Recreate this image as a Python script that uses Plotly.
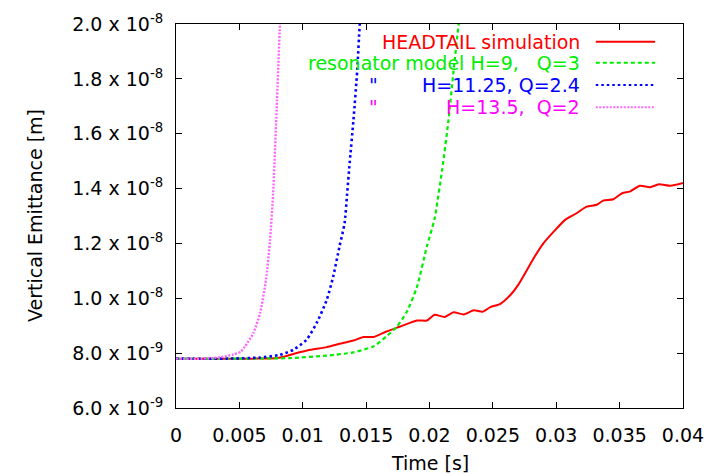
import plotly.graph_objects as go

# ---- data (emittance in units of 1e-9 m, time in s) ----
t_headtail = [0, 0.002, 0.004, 0.006, 0.008, 0.00925, 0.0106, 0.0119, 0.0129, 0.0140, 0.0148,
              0.0156, 0.0166, 0.0177, 0.0190, 0.0198, 0.0204, 0.0212, 0.0219, 0.0227, 0.0235,
              0.0242, 0.0248, 0.0256, 0.0264, 0.0270, 0.0277, 0.0283, 0.0290, 0.0298, 0.0307,
              0.0316, 0.0324, 0.0332, 0.0337, 0.0345, 0.0352, 0.0358, 0.0366, 0.0374, 0.0381,
              0.0390, 0.0400]
e_headtail = [7.8, 7.8, 7.8, 7.8, 7.82, 7.97, 8.12, 8.22, 8.34, 8.46, 8.59,
              8.59, 8.79, 8.97, 9.19, 9.19, 9.40, 9.32, 9.49, 9.41, 9.56,
              9.51, 9.68, 9.80, 10.13, 10.49, 11.04, 11.52, 12.01, 12.43, 12.86,
              13.10, 13.34, 13.41, 13.56, 13.61, 13.83, 13.89, 14.10, 14.05, 14.16,
              14.10, 14.20]

t_res_q3 = [0, 0.005, 0.009, 0.0119, 0.0140, 0.0156, 0.0166, 0.0174, 0.0182, 0.0190, 0.0198,
            0.0204, 0.0210, 0.0215, 0.0219, 0.0223, 0.0226]
e_res_q3 = [7.8, 7.8, 7.82, 7.91, 8.03, 8.25, 8.61, 8.95, 9.5, 10.4, 11.9,
            12.9, 14.7, 16.5, 18.3, 20.0, 21.3]

t_res_q24 = [0, 0.004, 0.0066, 0.0082, 0.00925, 0.0103, 0.0111, 0.0119, 0.0124, 0.0129,
             0.0133, 0.0135, 0.0137, 0.0140, 0.0143, 0.0145, 0.0147]
e_res_q24 = [7.8, 7.8, 7.84, 7.94, 8.12, 8.49, 9.10, 9.95, 10.79, 11.89,
             12.74, 13.8, 14.93, 16.5, 18.32, 20.0, 21.0]

t_res_q2 = [0, 0.002, 0.0035, 0.0045, 0.0051, 0.00544, 0.0061, 0.00663, 0.0071, 0.00742,
            0.00766, 0.00794, 0.0082, 0.0083]
e_res_q2 = [7.8, 7.8, 7.85, 7.95, 8.05, 8.24, 8.73, 9.46, 10.67, 12.13,
            13.8, 16.87, 20.0, 21.0]

y_ticks = [6, 8, 10, 12, 14, 16, 18, 20]
y_ticktext = ["6.0 x 10<sup>-9</sup>", "8.0 x 10<sup>-9</sup>", "1.0 x 10<sup>-8</sup>",
              "1.2 x 10<sup>-8</sup>", "1.4 x 10<sup>-8</sup>", "1.6 x 10<sup>-8</sup>",
              "1.8 x 10<sup>-8</sup>", "2.0 x 10<sup>-8</sup>"]
x_ticks = [0, 0.005, 0.01, 0.015, 0.02, 0.025, 0.03, 0.035, 0.04]
x_ticktext = ["0", "0.005", "0.01", "0.015", "0.02", "0.025", "0.03", "0.035", "0.04"]

x_title = "Time [s]"
y_title = "Vertical Emittance [m]"
legend_labels = ["HEADTAIL simulation", "resonator model H=9,   Q=3", "H=11.25, Q=2.4", "H=13.5,  Q=2"]
legend_colors = ["#ff0000", "#00ee00", "#0000ff", "#ff00ff"]

FONT = "DejaVu Sans, Liberation Sans, Arial, sans-serif"
FS = 19

fig = go.Figure()
series = [
    (t_headtail, e_headtail, "#ff0000", "solid", 2),
    (t_res_q3, e_res_q3, "#00ee00", "4px,3px", 2.2),
    (t_res_q24, e_res_q24, "#0000ff", "2.5px,3px", 2.6),
    (t_res_q2, e_res_q2, "#ff66ff", "2px,1.5px", 2.4),
]
for (tx, ey, col, dash, w), name in zip(series, legend_labels):
    fig.add_trace(go.Scatter(x=tx, y=ey, mode="lines", name=name,
                             line=dict(color=col, dash=dash, width=w, shape="spline", smoothing=0.6),
                             showlegend=False))

# custom legend (right-aligned coloured text with sample line on the right)
row_y = [0.954, 0.899, 0.841, 0.783]
dashes = ["solid", "4px,3px", "2.5px,3px", "2px,1.5px"]
sample_colors = ["#ff0000", "#00ee00", "#0000ff", "#ff66ff"]
for i, (lab, col) in enumerate(zip(legend_labels, legend_colors)):
    fig.add_annotation(x=0.801, y=row_y[i], xref="paper", yref="paper", text=lab,
                       showarrow=False, xanchor="right", yanchor="middle",
                       font=dict(family=FONT, size=FS, color=col))
    fig.add_shape(type="line", xref="paper", yref="paper", x0=0.828, x1=0.945,
                  y0=row_y[i], y1=row_y[i],
                  line=dict(color=sample_colors[i], width=2, dash=dashes[i]))
for i in (2, 3):
    fig.add_annotation(x=0.389, y=row_y[i], xref="paper", yref="paper", text='"',
                       showarrow=False, xanchor="center", yanchor="middle",
                       font=dict(family=FONT, size=FS, color=legend_colors[i]))

# axis titles
fig.add_annotation(x=0.5, y=-0.143, xref="paper", yref="paper", text=x_title, showarrow=False,
                   xanchor="center", yanchor="middle", font=dict(family=FONT, size=FS, color="black"))
fig.add_annotation(x=-0.278, y=0.5, xref="paper", yref="paper", text=y_title, showarrow=False,
                   textangle=-90, xanchor="center", yanchor="middle",
                   font=dict(family=FONT, size=FS, color="black"))

axis_common = dict(showline=True, linecolor="black", linewidth=1, mirror="ticks",
                   ticks="inside", ticklen=6, tickcolor="black", tickwidth=1,
                   showgrid=False, zeroline=False, automargin=False)
fig.update_xaxes(range=[0, 0.04], tickvals=x_ticks, ticktext=x_ticktext,
                 tickfont=dict(family=FONT, size=FS, color="black"),
                 ticklabelstandoff=10, **axis_common)
fig.update_yaxes(range=[6, 20], tickvals=y_ticks, ticktext=y_ticktext,
                 tickfont=dict(family=FONT, size=FS, color="black"),
                 ticklabelstandoff=8, **axis_common)
fig.update_layout(width=714, height=475, margin=dict(l=176, r=31, t=24, b=67),
                  plot_bgcolor="white", paper_bgcolor="white")
fig.write_html("out.html")
